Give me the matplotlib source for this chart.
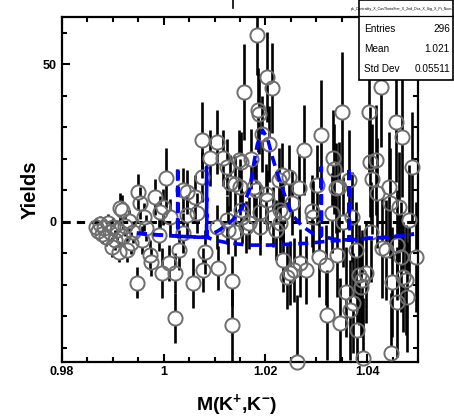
import matplotlib
matplotlib.use("Agg")
import matplotlib.pyplot as plt
import numpy as np
from matplotlib.ticker import FixedLocator, MultipleLocator, FixedFormatter
from matplotlib.lines import Line2D
from matplotlib.patches import Rectangle

plt.rcParams['font.family'] = ['Liberation Sans', 'DejaVu Sans']
plt.rcParams['mathtext.fontset'] = 'custom'
plt.rcParams['mathtext.rm'] = 'Liberation Sans:bold'
plt.rcParams['mathtext.it'] = 'Liberation Sans:bold'
plt.rcParams['mathtext.bf'] = 'Liberation Sans:bold'
plt.rcParams['mathtext.default'] = 'rm'

# ---------------- data ----------------
mass = [0.98667, 0.98706, 0.98745, 0.98784, 0.98824, 0.98863, 0.98902, 0.98941, 0.98980, 0.99000,
        0.99039, 0.99078, 0.99118, 0.99137, 0.99176, 0.99196, 0.99235, 0.99275, 0.99314, 0.99353,
        0.99392, 0.99471, 0.99490, 0.99529, 0.99569, 0.99608, 0.99647, 0.99725, 0.99745, 0.99824,
        0.99902, 0.99922, 0.99961, 0.99980, 1.00039, 1.00098, 1.00118, 1.00216, 1.00226, 1.00294,
        1.00373, 1.00383, 1.00451, 1.00461, 1.00569, 1.00608, 1.00647, 1.00745, 1.00755, 1.00765,
        1.00804, 1.00902, 1.01039, 1.01049, 1.01059, 1.01157, 1.01235, 1.01245, 1.01255, 1.01294,
        1.01333, 1.01343, 1.01392, 1.01402, 1.01490, 1.01500, 1.01510, 1.01529, 1.01549, 1.01588,
        1.01627, 1.01686, 1.01725, 1.01784, 1.01824, 1.01843, 1.01853, 1.01882, 1.01892, 1.01902,
        1.01941, 1.02020, 1.02030, 1.02039, 1.02078, 1.02137, 1.02147, 1.02216, 1.02275, 1.02285,
        1.02295, 1.02333, 1.02343, 1.02353, 1.02431, 1.02471, 1.02481, 1.02529, 1.02569, 1.02627,
        1.02667, 1.02677, 1.02765, 1.02804, 1.02922, 1.02932, 1.03020, 1.03059, 1.03098, 1.03196,
        1.03206, 1.03314, 1.03324, 1.03353, 1.03392, 1.03402, 1.03451, 1.03461, 1.03510, 1.03520,
        1.03588, 1.03647, 1.03657, 1.03706, 1.03716, 1.03784, 1.03794, 1.03843, 1.03882, 1.03902,
        1.03912, 1.03980, 1.04039, 1.04049, 1.04078, 1.04098, 1.04176, 1.04186, 1.04275, 1.04285,
        1.04373, 1.04431, 1.04441, 1.04471, 1.04490, 1.04569, 1.04579, 1.04588, 1.04627, 1.04667,
        1.04686, 1.04696, 1.04765, 1.04784, 1.04824, 1.04882, 1.04961]

yields = [-1.7, -2.9, -0.7, -3.9, -2.0, -4.9, -0.4, -3.3, -8.0, -1.7,
          -5.8, -2.6, -9.6, 4.3, 3.7, -4.5, -1.4, -9.0, 0.2, -6.8,
          -3.3, -19.3, 9.4, 5.9, -5.8, 1.5, -2.0, -10.6, -12.8, 7.8,
          -4.2, 3.1, -16.3, 4.7, 13.9, -13.1, 1.5, -16.3, -30.6, -9.0,
          10.1, -3.6, 9.4, 2.1, -19.5, 7.8, 2.8, 25.9, 14.2, -15.3,
          -9.6, 20.2, 25.3, -1.7, -14.7, 20.2, 17.4, 0.5, -2.6, 12.3,
          -18.8, -32.8, 12.0, -3.3, 19.6, 11.0, 3.7, 19.0, 1.5, 41.2,
          -1.7, -0.4, 19.9, 11.0, 10.1, 59.3, 35.5, 34.2, 3.1, -1.7,
          27.8, 8.8, 6.9, 45.9, 24.7, 42.4, 1.5, -2.6, 13.2, 3.7,
          -0.4, 14.8, -12.2, 2.8, -17.6, 14.2, -16.3, 5.9, -15.3, -44.5,
          10.7, -13.1, 22.8, -15.3, 3.4, 1.5, 11.7, -11.2, 27.5, -13.7,
          -29.6, 2.8, 20.2, 16.7, 10.7, -10.6, 11.0, -32.2, 34.8, -0.1,
          -22.3, 13.2, -28.0, 1.5, -25.8, -9.0, -34.4, -16.9, -20.7, -18.5,
          -43.1, -16.3, 34.8, 19.0, -3.3, 13.6, 19.6, 9.1, 42.8, -8.3,
          -9.0, 11.0, 5.9, -41.7, -19.2, 31.7, -7.4, -25.5, 4.7, -11.2,
          26.9, -17.6, -18.5, -23.9, 0.5, 17.4, -11.2]

errors = [2.5, 2.5, 2.5, 2.9, 2.5, 2.9, 2.9, 2.9, 3.2, 2.9,
          3.2, 3.2, 3.2, 4.8, 4.8, 3.2, 3.2, 3.8, 3.5, 3.5,
          3.5, 4.8, 5.7, 5.1, 4.4, 4.4, 4.1, 4.8, 4.4, 5.7,
          5.1, 5.1, 7.9, 5.7, 9.5, 5.7, 5.7, 6.3, 7.9, 6.3,
          7.0, 6.3, 7.0, 6.3, 7.9, 7.0, 6.3, 12.1, 7.9, 7.0,
          7.0, 8.9, 10.2, 7.0, 7.0, 8.9, 8.9, 7.6, 7.6, 8.9,
          7.9, 11.7, 8.9, 7.6, 9.5, 8.9, 8.3, 9.5, 8.3, 15.2,
          8.3, 8.3, 9.5, 9.5, 9.5, 12.7, 13.3, 12.7, 8.9, 8.9,
          12.1, 9.5, 9.5, 14.3, 12.1, 14.3, 9.5, 9.5, 10.2, 9.5,
          9.5, 10.2, 10.2, 9.5, 10.2, 10.2, 10.2, 10.2, 10.2, 21.3,
          10.8, 10.8, 14.3, 10.8, 11.4, 11.4, 12.7, 12.7, 17.5, 12.7,
          14.3, 12.7, 15.2, 14.3, 14.3, 13.3, 14.3, 14.3, 19.0, 14.3,
          14.3, 15.9, 15.9, 14.3, 15.9, 15.2, 15.9, 15.9, 15.9, 15.9,
          19.0, 15.9, 19.0, 17.5, 15.9, 17.5, 17.5, 17.5, 19.0, 15.9,
          15.9, 17.5, 17.5, 19.0, 17.5, 19.0, 17.5, 17.5, 17.5, 17.5,
          19.0, 17.5, 17.5, 17.5, 17.5, 17.5, 17.5]

# signal + background fit curve (blue dashed)
fit_x = [0.99471, 0.99922, 1.00255, 1.00275, 1.00275, 1.00280, 1.00706, 1.00843, 1.00843, 1.00848,
         1.01098, 1.01353, 1.01549, 1.01686, 1.01784, 1.01843, 1.01941, 1.02039, 1.02137, 1.02275,
         1.02412, 1.02529, 1.02725, 1.02922, 1.03098, 1.03098, 1.03103, 1.03353, 1.03647, 1.03647,
         1.03652, 1.04039, 1.04431, 1.04922]
fit_y = [-3.6, -4.2, -4.5, -4.5, 17.4, -4.6, -4.9, -4.9, 17.4, -4.9,
         -2.6, 0.5, 4.7, 10.1, 19.6, 24.7, 29.1, 26.6, 20.5, 13.2,
         6.9, 2.1, -1.4, -3.6, -4.5, 17.4, -4.6, -5.5, -5.8, 17.4,
         -5.8, -5.2, -4.9, -3.9]

# background-only curve (blue dashed)
bkg_x = [0.99471, 0.99922, 1.00255, 1.00706, 1.00843, 1.01000, 1.01294, 1.01686, 1.02078, 1.02471,
         1.02863, 1.03255, 1.03647, 1.04039, 1.04431, 1.04922]
bkg_y = [-3.6, -4.2, -4.5, -4.9, -4.9, -5.8, -6.8, -7.4, -7.4, -7.1,
         -6.8, -6.1, -5.8, -5.2, -4.9, -3.9]

xticks_major = [0.98, 1.0, 1.02, 1.04]
xtick_labels = ["0.98", "1", "1.02", "1.04"]
yticks_major = [0, 50]
ytick_labels = ["0", "50"]

stat_names = ["Entries", "Mean", "Std Dev"]
stat_values = ["296", "1.021", "0.05511"]
hist_name = "pk_Centrality_X_CosThetaStar_X_2nd_Dca_X_Sig_X_Pt_Nom"

# ---------------- figure ----------------
W, H = 454, 419
fig = plt.figure(figsize=(W / 100, H / 100), dpi=100)
ax = fig.add_axes([62 / W, 57 / H, 356 / W, 345 / H])
ax.set_xlim(0.98, 1.05)
ax.set_ylim(-44.5, 65)

m = np.array(mass)
y = np.array(yields)
e = np.array(errors)

# error bars, interrupted at the marker (ROOT style)
p0 = ax.transData.transform((0, 0))[1]
p1 = ax.transData.transform((0, 1))[1]
rad = 7.0 / (p1 - p0)  # marker radius (7 px) in data units
has = e > rad
ax.vlines(m[has], y[has] - e[has], y[has] - rad, colors='black', lw=1.9, zorder=2)
ax.vlines(m[has], y[has] + rad, y[has] + e[has], colors='black', lw=1.9, zorder=2)

ax.axhline(0, color='black', lw=2.2, ls=(0, (2.7, 2.0)), zorder=3)

ax.plot(m, y, 'o', mfc='none', mec='#6e6e6e', ms=10.2, mew=1.4, clip_on=False, zorder=4)

ax.plot(bkg_x, bkg_y, color='#0000ff', lw=2.6, ls=(0, (2.8, 1.7)), zorder=5)
ax.plot(fit_x, fit_y, color='#0000ff', lw=2.6, ls=(0, (2.8, 1.7)), zorder=5)

# axes styling
for s in ax.spines.values():
    s.set_linewidth(1.6)
ax.xaxis.set_major_locator(FixedLocator(xticks_major))
ax.xaxis.set_major_formatter(FixedFormatter(xtick_labels))
ax.xaxis.set_minor_locator(MultipleLocator(0.005))
ax.yaxis.set_major_locator(FixedLocator(yticks_major))
ax.yaxis.set_major_formatter(FixedFormatter(ytick_labels))
ax.yaxis.set_minor_locator(MultipleLocator(10))
ax.tick_params(which='both', direction='in', top=True, right=True, width=1.5)
ax.tick_params(which='major', length=6.0)
ax.tick_params(which='minor', length=3.3)
ax.tick_params(axis='x', which='major', pad=3, labelsize=9)
ax.tick_params(axis='y', which='major', pad=4, labelsize=9)
for lab in ax.get_xticklabels() + ax.get_yticklabels():
    lab.set_fontweight('bold')

fig.text(237 / W, 1 - 405 / H, "M(K$^{+}$,K$^{-}$)", ha='center', va='center',
         fontsize=14, fontweight='bold')
fig.text(30 / W, 1 - 189.5 / H, "Yields", ha='center', va='center', rotation=90,
         fontsize=14.5, fontweight='bold')

# remnant of title at the top
fig.add_artist(Line2D([232.7 / W, 232.7 / W], [1 - 0 / H, 1 - 8 / H], color='black', lw=1.2,
                      transform=fig.transFigure))

# statistics box
bx0, bx1, by0, by1 = 359, 453, 0, 80
fig.add_artist(Rectangle((bx0 / W, 1 - by1 / H), (bx1 - bx0) / W, (by1 - by0) / H,
                         transform=fig.transFigure, facecolor='white', edgecolor='black',
                         lw=1.2, zorder=10))
fig.add_artist(Line2D([bx0 / W, bx1 / W], [1 - 16 / H, 1 - 16 / H], color='black', lw=0.9,
                      transform=fig.transFigure, zorder=11))
fig.text(402 / W, 1 - 9 / H, hist_name, ha='center', va='center', fontsize=2.6, zorder=12)
rows_y = [29, 49, 69]
for name, val, ry in zip(stat_names, stat_values, rows_y):
    fig.text(364 / W, 1 - ry / H, name, ha='left', va='center', fontsize=7.2, zorder=12)
    fig.text(450 / W, 1 - ry / H, val, ha='right', va='center', fontsize=7.2, zorder=12)

fig.savefig("out.png", dpi=100)
